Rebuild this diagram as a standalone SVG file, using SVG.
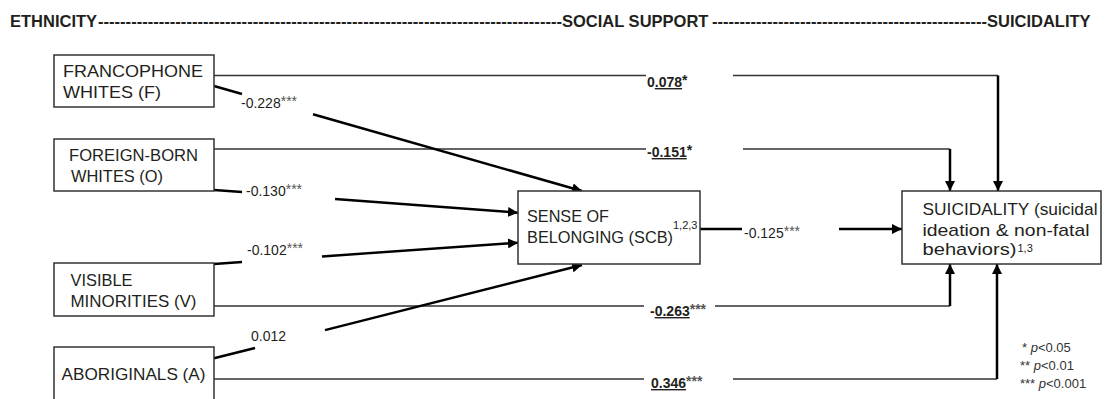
<svg xmlns="http://www.w3.org/2000/svg" width="1109" height="399" viewBox="0 0 1109 399">
<style>
text{font-family:"Liberation Sans",Arial,Helvetica,sans-serif;fill:#231f20}
.hdr{font-size:16.5px;font-weight:bold}
.nt{font-size:17px}
.lb{font-size:14px}
.bl{font-size:14px;font-weight:bold}
.st{fill:#555}
.ul{text-decoration:underline}
.box{fill:#fff;stroke:#333;stroke-width:1.5}
.thin{fill:none;stroke:#333;stroke-width:1.3}
.thick{fill:none;stroke:#000;stroke-width:2.5}
.leg{font-size:13px;fill:#333}
</style>
<defs>
<marker id="ah" markerUnits="userSpaceOnUse" markerWidth="11" markerHeight="10" refX="10" refY="5" orient="auto"><path d="M0,0 L10,5 L0,10 z" fill="#000"/></marker>
</defs>
<g id="header">
<text class="hdr" x="10" y="27">ETHNICITY</text>
<text class="hdr" x="98" y="27" textLength="464" lengthAdjust="spacingAndGlyphs">------------------------------------------------------------------------------------</text>
<text class="hdr" x="562" y="27">SOCIAL SUPPORT</text>
<text class="hdr" x="712" y="27" textLength="275" lengthAdjust="spacingAndGlyphs">--------------------------------------------------</text>
<text class="hdr" x="987" y="27">SUICIDALITY</text>
</g>
<g id="connectors">
<path class="thin" d="M214,75.5 H646 M733,75.5 H998"/>
<path class="thin" d="M214,149 H646 M743,149 H950"/>
<path class="thin" d="M214,306 H644 M715,306 H950"/>
<path class="thin" d="M214,379 H644 M733,379 H997"/>
<path class="thick" d="M998,75.5 V191" marker-end="url(#ah)"/>
<path class="thick" d="M950,149 V191" marker-end="url(#ah)"/>
<path class="thick" d="M950,306 V264" marker-end="url(#ah)"/>
<path class="thick" d="M997,379 V264" marker-end="url(#ah)"/>
<path class="thick" d="M214,86 L242,94"/>
<path class="thick" d="M313,114.2 L582,191" marker-end="url(#ah)"/>
<path class="thick" d="M214,190 L242,192.1"/>
<path class="thick" d="M335,199 L518,212.7" marker-end="url(#ah)"/>
<path class="thick" d="M214,264 L242,262"/>
<path class="thick" d="M322,256.4 L518,242.7" marker-end="url(#ah)"/>
<path class="thick" d="M214,358.3 L255,348"/>
<path class="thick" d="M325,330.1 L582,265" marker-end="url(#ah)"/>
<path class="thick" d="M700,229 H742"/>
<path class="thick" d="M839,229 H902" marker-end="url(#ah)"/>
<text class="lb" x="241" y="108">-0.228<tspan class="st" dy="-2">***</tspan></text>
<text class="lb" x="246" y="196">-0.130<tspan class="st" dy="-2">***</tspan></text>
<text class="lb" x="247" y="255">-0.102<tspan class="st" dy="-2">***</tspan></text>
<text class="lb" x="251" y="341">0.012</text>
<text class="lb" x="744" y="238">-0.125<tspan class="st" dy="-2">***</tspan></text>
<text class="bl" x="647" y="87">0<tspan class="ul">.078</tspan><tspan dy="-2">*</tspan></text>
<text class="bl" x="647" y="157">-<tspan class="ul">0.151</tspan><tspan dy="-2">*</tspan></text>
<text class="bl" x="650" y="316">-<tspan class="ul">0.263</tspan><tspan class="st" dy="-2">***</tspan></text>
<text class="bl" x="651" y="388"><tspan class="ul">0.346</tspan><tspan class="st" dy="-2">***</tspan></text>
</g>
<g id="node-F">
<rect class="box" x="54" y="55" width="160" height="52"/>
<text class="nt" x="63" y="77" textLength="140" lengthAdjust="spacingAndGlyphs">FRANCOPHONE</text>
<text class="nt" x="63" y="98" textLength="98" lengthAdjust="spacingAndGlyphs">WHITES (F)</text>
</g>
<g id="node-O">
<rect class="box" x="54" y="139" width="160" height="52"/>
<text class="nt" x="69" y="161" textLength="129" lengthAdjust="spacingAndGlyphs">FOREIGN-BORN</text>
<text class="nt" x="71" y="182" textLength="92" lengthAdjust="spacingAndGlyphs">WHITES (O)</text>
</g>
<g id="node-V">
<rect class="box" x="54" y="263" width="160" height="53"/>
<text class="nt" x="70.5" y="286" textLength="62" lengthAdjust="spacingAndGlyphs">VISIBLE</text>
<text class="nt" x="70.5" y="307" textLength="126" lengthAdjust="spacingAndGlyphs">MINORITIES (V)</text>
</g>
<g id="node-A">
<rect class="box" x="54" y="347" width="160" height="70"/>
<text class="nt" x="61.5" y="380" textLength="144" lengthAdjust="spacingAndGlyphs">ABORIGINALS (A)</text>
</g>
<g id="node-SCB">
<rect class="box" x="518" y="191" width="182" height="73"/>
<text class="nt" x="527" y="222" textLength="82" lengthAdjust="spacingAndGlyphs">SENSE OF</text>
<text class="nt" x="527" y="243" textLength="146" lengthAdjust="spacingAndGlyphs">BELONGING (SCB)</text>
<text x="673" y="229" font-size="11">1,2,3</text>
</g>
<g id="node-SUIC">
<rect class="box" x="902" y="191" width="199" height="73"/>
<text class="nt" x="922.5" y="215" textLength="175" lengthAdjust="spacingAndGlyphs">SUICIDALITY (suicidal</text>
<text class="nt" x="922.5" y="236" textLength="167" lengthAdjust="spacingAndGlyphs">ideation &amp; non-fatal</text>
<text class="nt" x="922.5" y="255" textLength="94" lengthAdjust="spacingAndGlyphs">behaviors)</text>
<text x="1017.5" y="252" font-size="11">1,3</text>
</g>
<g id="legend">
<text class="leg" x="1022" y="352">* <tspan font-style="italic">p</tspan>&lt;0.05</text>
<text class="leg" x="1020" y="370">** <tspan font-style="italic">p</tspan>&lt;0.01</text>
<text class="leg" x="1020" y="388">*** <tspan font-style="italic">p</tspan>&lt;0.001</text>
</g>
</svg>
